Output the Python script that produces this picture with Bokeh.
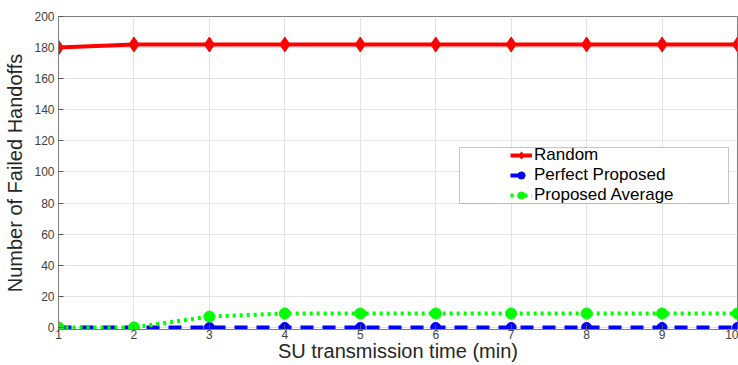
from bokeh.plotting import figure
from bokeh.models import Legend, LegendItem, Range1d, FixedTicker, BoxAnnotation
from bokeh.embed import file_html
from bokeh.resources import INLINE

x_vals = [1, 2, 3, 4, 5, 6, 7, 8, 9, 10]
random_vals = [180, 182, 182, 182, 182, 182, 182, 182, 182, 182]
perfect_vals = [0, 0, 0, 0, 0, 0, 0, 0, 0, 0]
average_vals = [0, 0, 7, 9, 9, 9, 9, 9, 9, 9]
y_ticks = [0, 20, 40, 60, 80, 100, 120, 140, 160, 180, 200]
series_names = ["Random", "Perfect Proposed", "Proposed Average"]

FONT = "Liberation Sans"

p = figure(width=738, height=365, output_backend="svg", toolbar_location=None,
           x_range=Range1d(1, 10), y_range=Range1d(-1.3, 200),
           min_border_left=58, min_border_right=1, min_border_top=16, min_border_bottom=36)
p.background_fill_color = "white"
p.border_fill_color = "white"
p.outline_line_color = "#7f7f7f"
p.outline_line_width = 1

for ax in (p.xaxis[0], p.yaxis[0]):
    ax.major_tick_in = 5
    ax.major_tick_out = 0
    ax.minor_tick_in = 0
    ax.minor_tick_out = 0
    ax.axis_line_color = "#7f7f7f"
    ax.major_tick_line_color = "#555555"
    ax.major_label_text_font = FONT
    ax.major_label_text_font_size = "12px"
    ax.major_label_text_color = "#404040"
    ax.axis_label_text_font = FONT
    ax.axis_label_text_font_size = "20px"
    ax.axis_label_text_font_style = "normal"
    ax.axis_label_text_color = "#262626"

p.xaxis.ticker = FixedTicker(ticks=x_vals)
p.yaxis.ticker = FixedTicker(ticks=y_ticks)
p.xaxis.axis_label = "SU transmission time (min)"
p.yaxis.axis_label = "Number of Failed Handoffs"
p.xaxis.major_label_standoff = 0
p.xaxis.axis_label_standoff = -2
p.yaxis.major_label_standoff = 4
p.yaxis.axis_label_standoff = 5

p.grid.grid_line_color = "#e3e3e3"
p.grid.grid_line_width = 1

r_line = p.line(x_vals, random_vals, line_color="#ff0000", line_width=4)
r_mark = p.scatter(x_vals, random_vals, marker="diamond", size=15, fill_color="#ff0000", line_color="#ff0000")
b_line = p.line(x_vals, perfect_vals, line_color="#0000ff", line_width=4, line_dash="13 9")
b_mark = p.scatter(x_vals, perfect_vals, marker="circle", size=10, fill_color="#0000ff", line_color="#0000ff")
g_line = p.line(x_vals, average_vals, line_color="#00ff00", line_width=4, line_dash="3 4")
g_mark = p.scatter(x_vals, average_vals, marker="circle", size=11, fill_color="#00ff00", line_color="#00ff00")

box = BoxAnnotation(left=401, right=670, top=182, bottom=126,
                    left_units="screen", right_units="screen", top_units="screen", bottom_units="screen",
                    fill_color="white", fill_alpha=1, line_color="#404040", line_width=1)
p.add_layout(box)

legend = Legend(items=[
    LegendItem(label=series_names[0], renderers=[r_line, r_mark]),
    LegendItem(label=series_names[1], renderers=[b_line, b_mark]),
    LegendItem(label=series_names[2], renderers=[g_line, g_mark]),
], location=(451, 123))
legend.label_text_font = FONT
legend.label_text_font_size = "17px"
legend.label_text_color = "#000000"
legend.glyph_width = 22
legend.glyph_height = 18
legend.label_height = 18
legend.label_standoff = 2
legend.spacing = 0
legend.padding = 1
legend.margin = 0
legend.border_line_alpha = 0
legend.background_fill_alpha = 0
p.add_layout(legend)

open("out.html", "w").write(file_html(p, INLINE))
